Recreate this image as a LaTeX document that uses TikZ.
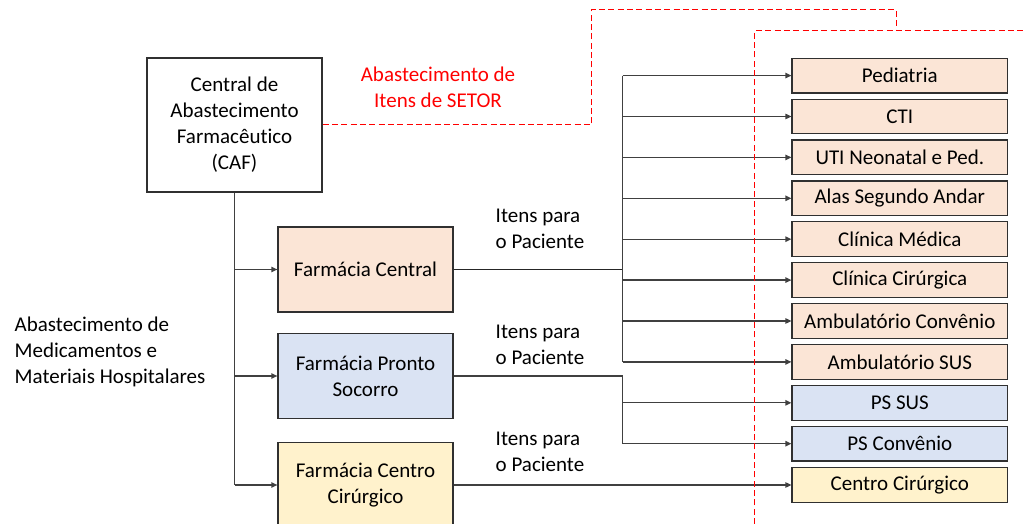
\documentclass[tikz,border=0pt]{standalone}
\usepackage{fontspec}
\setmainfont{Carlito}[Ligatures=NoCommon]
\usetikzlibrary{arrows.meta}
\definecolor{peach}{HTML}{FBE5D6}
\definecolor{lblue}{HTML}{DAE3F3}
\definecolor{lyellow}{HTML}{FFF2CC}
\definecolor{linegray}{HTML}{404040}
\definecolor{bordergray}{HTML}{303030}
\tikzset{
  txt/.style={font=\fontsize{15.75}{19.5}\selectfont, text=black},
  box/.style={txt, draw=bordergray, line width=0.9pt, align=center, inner sep=0pt},
  bigbox/.style={box, minimum width=131.25pt, minimum height=63.75pt},
  rbox/.style={box, fill=peach, minimum width=161.6pt, minimum height=26pt},
  conn/.style={draw=linegray, line width=1pt},
  arr/.style={conn, -{Triangle[length=4.5pt,width=4pt]}},
  reddash/.style={draw=red, line width=0.75pt, dash pattern=on 4.5pt off 2.5pt},
}
\begin{document}
\begin{tikzpicture}[x=0.75pt,y=-0.75pt]
\useasboundingbox (0,0) rectangle (1026,524);

% left column
\node[box, minimum width=131.25pt, minimum height=100.5pt] (caf) at (234.5,125) {Central de\\Abastecimento\\Farmacêutico\\(CAF)};
\node[bigbox, fill=peach] (fc) at (365.5,269.5) {Farmácia Central};
\node[bigbox, fill=lblue] (fps) at (365.5,376) {Farmácia Pronto\\Socorro};
\node[bigbox, fill=lyellow] (fcc) at (365.5,485) {Farmácia Centro\\Cirúrgico};

% right column
\node[rbox] (r1) at (899.8,75.6) {Pediatria};
\node[rbox] (r2) at (899.8,116.5) {CTI};
\node[rbox] (r3) at (899.8,157.4) {UTI Neonatal e Ped.};
\node[rbox] (r4) at (899.8,198.3) {Alas Segundo Andar};
\node[rbox] (r5) at (899.8,239.2) {Clínica Médica};
\node[rbox] (r6) at (899.8,280.1) {Clínica Cirúrgica};
\node[rbox] (r7) at (899.8,321.0) {Ambulatório Convênio};
\node[rbox] (r8) at (899.8,361.9) {Ambulatório SUS};
\node[rbox, fill=lblue] (r9) at (899.8,402.8) {PS SUS};
\node[rbox, fill=lblue] (r10) at (899.8,443.7) {PS Convênio};
\node[rbox, fill=lyellow] (r11) at (899.8,485) {Centro Cirúrgico};

% labels
\node[txt, text=red, align=center] (lsetor) at (438,87) {Abastecimento de\\Itens de SETOR};
\node[txt, align=left, anchor=west] (l1) at (491,228.5) {Itens para\\o Paciente};
\node[txt, align=left, anchor=west] (l2) at (491,344.5) {Itens para\\o Paciente};
\node[txt, align=left, anchor=west] (l3) at (491,451.5) {Itens para\\o Paciente};
\node[txt, align=left, anchor=west] (lleft) at (10,352) {Abastecimento de\\Medicamentos e\\Materiais Hospitalares};

% CAF distribution
\draw[conn] (caf.south) -- (caf.south |- fcc.west);
\draw[arr] (caf.south |- fc.west) -- (fc.west);
\draw[arr] (caf.south |- fps.west) -- (fps.west);
\draw[arr] (caf.south |- fcc.west) -- (fcc.west);

% Farmacia Central branches
\coordinate (jc) at (622.7,269.5);
\draw[conn, line width=1.3pt, draw=black!85] (fc.east) -- (jc);
\draw[conn] (jc |- r1.west) -- (jc |- r8.west);
\foreach \r in {r1,r2,r3,r4,r5,r6,r7,r8}
  \draw[arr] (jc |- \r.west) -- (\r.west);

% Pronto Socorro branches
\coordinate (jp) at (622.7,376);
\draw[conn] (fps.east) -- (jp) -- (jp |- r10.west);
\draw[arr] (jp |- r9.west) -- (r9.west);
\draw[arr] (jp |- r10.west) -- (r10.west);

% Centro Cirurgico
\draw[arr] (fcc.east) -- (r11.west);

% red dashed
\coordinate (d1) at (591.7,125);
\coordinate (d2) at (591.7,9.3);
\coordinate (d3) at (896,9.3);
\coordinate (d4) at (896,31);
\coordinate (e1) at (754.3,31);
\coordinate (e2) at (1026,31);
\coordinate (e3) at (754.3,524);
\draw[reddash] (caf.east |- d1) -- (d1) -- (d2) -- (d3) -- (d4);
\draw[reddash] (e3) -- (e1) -- (e2);
\end{tikzpicture}
\end{document}
